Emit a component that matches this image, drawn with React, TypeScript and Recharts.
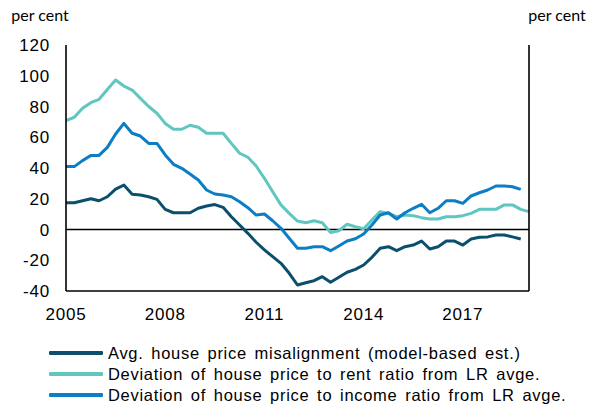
import React from "react";
import { LineChart, Line, XAxis, YAxis, ReferenceLine, Legend } from "recharts";

// Quarterly index: 0 = 2005Q1
const misalignment = [
  17.4, 17.4, 18.7, 20, 18.7, 21.3, 26.3, 28.9, 22.9, 22.4, 21.3, 19.6, 13.1, 10.9, 10.9, 10.9,
  13.8, 15.3, 16.2, 14.4, 8.3, 2.9, -2.5, -8.3, -13.3, -17.7, -22, -28.5, -36.1, -34.6, -33.3, -30.7,
  -34.3, -31.1, -27.8, -25.9, -23.1, -18.1, -12.2, -11.2, -13.8, -11.2, -10.1, -7.5, -12.7, -11.2, -7.5, -7.5,
  -10.1, -6.2, -5.1, -4.8, -3.6, -3.6, -4.8, -6.2,
];
const rentRatio = [
  70.8, 73, 78.8, 82.5, 84.7, 91, 97.2, 93.3, 90.7, 85.3, 80, 75.6, 69, 65.2, 65.2, 67.8,
  66.5, 62.6, 62.6, 62.6, 56, 49.6, 47, 41.3, 33.3, 24.6, 16, 10.5, 5.5, 4.4, 5.7, 4.4,
  -2, -0.8, 3.4, 1.8, 0.5, 6.2, 11.6, 10.5, 8.3, 9.4, 9, 7.7, 6.8, 6.8, 8.3, 8.3,
  9, 10.5, 13.1, 13.1, 13.1, 16, 16, 13.1, 11.6,
];
const incomeRatio = [
  40.9, 40.9, 44.8, 48.2, 48.2, 53.4, 62.1, 69, 62.6, 60.8, 56, 56, 48.5, 42.4, 39.8, 36.1,
  32.2, 25.7, 23.1, 22.4, 21.3, 18.1, 14.2, 9.4, 10.1, 5.7, 0.8, -5.7, -12.2, -12.2, -11.2, -11.2,
  -13.8, -10.7, -7.5, -6, -2.9, 2.9, 9.4, 10.9, 6.8, 10.9, 13.8, 16.4, 10.9, 13.8, 18.7, 18.7,
  17, 21.8, 23.9, 25.7, 28.3, 28.3, 27.8, 26.1,
];
const yTicks = [-40, -20, 0, 20, 40, 60, 80, 100, 120];
const xTicks = [0, 12, 24, 36, 48];
const startYear = 2005;

const seriesNames = [
  "Avg. house price misalignment (model-based est.)",
  "Deviation of house price to rent ratio from LR avge.",
  "Deviation of house price to income ratio from LR avge.",
];
const colors = ["#0b4f6c", "#5fc6c0", "#0b7ec6"];

const data = rentRatio.map((_, i) => ({
  i,
  mis: i < misalignment.length ? misalignment[i] : null,
  rent: rentRatio[i],
  inc: i < incomeRatio.length ? incomeRatio[i] : null,
}));

const tickFont = { fontFamily: "'Liberation Sans', Arial, sans-serif", fontSize: 17, fill: "#000", letterSpacing: 0.8 };

const PerCent = (anchorX: number) => (props: any) => (
  <text x={anchorX} y={21} textAnchor="middle" fontFamily="Lato, sans-serif" fontSize={16} fill="#000">
    per cent
  </text>
);

const LegendContent = () => (
  <div style={{ fontFamily: "'Liberation Sans', Arial, sans-serif", fontSize: 16.5, letterSpacing: 0.7, wordSpacing: 2.5, color: "#000" }}>
    {seriesNames.map((n, k) => (
      <div key={k} style={{ display: "flex", alignItems: "center", height: 21, lineHeight: "21px", whiteSpace: "nowrap" }}>
        <div style={{ width: 54, height: 4, background: colors[k], marginLeft: 49, marginRight: 5, borderRadius: 1 }} />
        <span>{n}</span>
      </div>
    ))}
  </div>
);

export default function App() {
  return (
    <div style={{ position: "absolute", left: 0, top: 0, background: "#fff" }}>
      <LineChart width={593} height={409} data={data} margin={{ top: 45, right: 0, left: 0, bottom: 78 }}>
        <XAxis
          dataKey="i"
          type="number"
          domain={[0, 56]}
          ticks={xTicks}
          tickFormatter={(v: number) => String(startYear + v / 4)}
          tick={tickFont}
          tickSize={0}
          tickMargin={17}
          height={40}
          axisLine={{ stroke: "#000", strokeWidth: 1.6 }}
          tickLine={false}
        />
        <XAxis
          xAxisId="top"
          dataKey="i"
          type="number"
          domain={[0, 56]}
          orientation="top"
          height={0}
          tick={false}
          tickLine={false}
          axisLine={{ stroke: "#000", strokeWidth: 1.6 }}
        />
        <YAxis
          yAxisId="left"
          domain={[-40, 120]}
          ticks={yTicks}
          width={66}
          tick={tickFont}
          tickSize={0}
          tickMargin={16}
          tickLine={false}
          axisLine={{ stroke: "#000", strokeWidth: 1.6 }}
          label={PerCent(40)}
        />
        <YAxis
          yAxisId="right"
          orientation="right"
          domain={[-40, 120]}
          ticks={yTicks}
          width={64}
          tick={{ ...tickFont, textAnchor: "start" }}
          tickSize={0}
          tickMargin={17}
          tickLine={false}
          axisLine={{ stroke: "#000", strokeWidth: 1.6 }}
          label={PerCent(557)}
        />
        <ReferenceLine yAxisId="left" y={0} stroke="#000" strokeWidth={1.6} />
        <Line yAxisId="left" dataKey="mis" stroke={colors[0]} strokeWidth={3} dot={false} isAnimationActive={false} strokeLinejoin="round" />
        <Line yAxisId="left" dataKey="rent" stroke={colors[1]} strokeWidth={3} dot={false} isAnimationActive={false} strokeLinejoin="round" />
        <Line yAxisId="left" dataKey="inc" stroke={colors[2]} strokeWidth={3} dot={false} isAnimationActive={false} strokeLinejoin="round" />
        <Legend
          layout="horizontal"
          verticalAlign="middle"
          align="center"
          content={LegendContent}
          wrapperStyle={{ top: 342.5, left: 0, width: 593 }}
        />
      </LineChart>
    </div>
  );
}
